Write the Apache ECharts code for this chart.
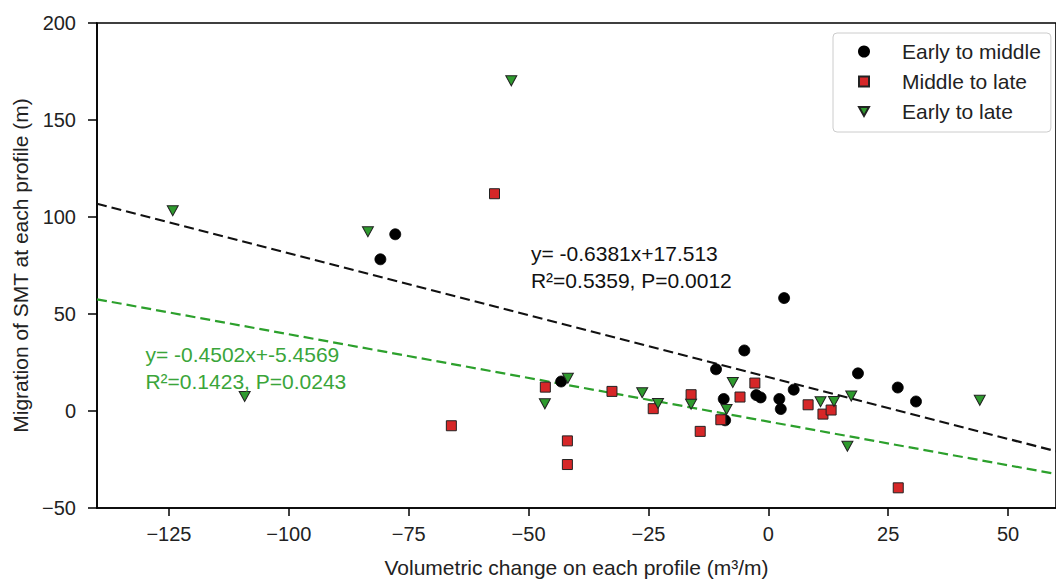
<!DOCTYPE html>
<html>
<head>
<meta charset="utf-8">
<script src="https://cdn.jsdelivr.net/npm/echarts@6/dist/echarts.min.js"></script>
<style>
html,body{margin:0;padding:0;background:#fff;}
#chart{width:1056px;height:583px;}
</style>
</head>
<body>
<div id="chart"></div>
<script>
// ---- data ----
const seriesNames = ['Early to middle', 'Middle to late', 'Early to late'];
const earlyMiddle = [[-80.9,78.2],[-77.8,91.1],[-43.2,15.2],[-10.9,21.5],[-9.3,6.2],[-9.0,-4.8],[-5.0,31.2],[-2.5,8.2],[-1.6,7.0],[2.3,6.2],[2.6,1.0],[3.3,58.2],[5.3,11.0],[18.7,19.4],[27.0,12.1],[30.8,4.9]];
const middleLate = [[-66.1,-7.6],[-57.1,112.0],[-46.5,12.3],[-41.9,-15.4],[-41.9,-27.6],[-32.6,10.1],[-24.0,1.2],[-16.1,8.4],[-14.2,-10.5],[-9.9,-4.5],[-5.9,7.2],[-2.8,14.4],[8.3,3.2],[11.4,-1.6],[13.1,0.5],[27.1,-39.6]];
const earlyLate = [[-124.2,103.2],[-109.2,7.5],[-83.5,92.4],[-53.6,170.2],[-46.6,3.7],[-41.8,16.9],[-26.3,9.4],[-23.0,3.9],[-16.1,3.5],[-8.7,0.8],[-7.4,14.7],[10.9,4.8],[13.7,4.9],[16.5,-18.2],[17.3,7.7],[44.1,5.5]];
const xTicks = [-125,-100,-75,-50,-25,0,25,50];
const xRange = [-140, 60];
const yRange = [-50, 200];
const yStep = 50;
const fitBlack = [-0.6381, 17.513];
const fitGreen = [-0.4502, -5.4569];
const textBlack = 'y= -0.6381x+17.513\nR²=0.5359, P=0.0012';
const textGreen = 'y= -0.4502x+-5.4569\nR²=0.1423, P=0.0243';
const textBlackAt = [-49.5, 87.9];
const textGreenAt = [-129.9, 35.9];

const FONT = '"Liberation Sans", Arial, Helvetica, sans-serif';
const fmt = v => (v < 0 ? '\u2212' + Math.abs(v) : String(v));
const fitLine = (c) => xRange.map(x => [x, c[0] * x + c[1]]);
const DOWN_TRI = 'path://M0,0L10,0L5,9Z';

const chart = echarts.init(document.getElementById('chart'), null, {renderer: 'svg'});
const option = {
  backgroundColor: '#fff',
  animation: false,
  textStyle: {fontFamily: FONT},
  grid: {left: 97, right: -7, top: 23, bottom: 75, show: true, borderColor: '#000', borderWidth: 1.6, backgroundColor: 'transparent'},
  legend: {
    data: [
      {name: seriesNames[0], icon: 'circle'},
      {name: seriesNames[1], icon: 'rect'},
      {name: seriesNames[2], icon: DOWN_TRI}
    ],
    orient: 'vertical',
    left: 833, top: 33,
    padding: [8, 10, 10, 25],
    itemGap: 9,
    itemWidth: 10, itemHeight: 10,
    backgroundColor: 'rgba(255,255,255,0.85)',
    borderColor: '#cccccc', borderWidth: 1, borderRadius: 4,
    textStyle: {fontFamily: FONT, fontSize: 21, color: '#222', lineHeight: 21, padding: [0, 0, 0, 28]}
  },
  xAxis: {
    type: 'value', min: xRange[0], max: xRange[1],
    name: 'Volumetric change on each profile (m³/m)',
    nameLocation: 'middle', nameGap: 49,
    nameTextStyle: {fontFamily: FONT, fontSize: 21, color: '#222'},
    axisLine: {show: true, onZero: false, lineStyle: {color: '#000', width: 1.6}},
    axisTick: {show: true, inside: false, length: 8, lineStyle: {color: '#000', width: 1.5}, customValues: xTicks},
    axisLabel: {show: true, margin: 16, fontFamily: FONT, fontSize: 20, color: '#222', customValues: xTicks, formatter: fmt},
    splitLine: {show: false}
  },
  yAxis: {
    type: 'value', min: yRange[0], max: yRange[1], interval: yStep,
    name: 'Migration of SMT at each profile (m)',
    nameLocation: 'middle', nameGap: 64, nameRotate: 90,
    nameTextStyle: {fontFamily: FONT, fontSize: 21, color: '#222'},
    axisLine: {show: true, onZero: false, lineStyle: {color: '#000', width: 1.6}},
    axisTick: {show: true, inside: false, length: 9, lineStyle: {color: '#000', width: 1.5}},
    axisLabel: {show: true, margin: 21, fontFamily: FONT, fontSize: 20, color: '#222', formatter: fmt},
    splitLine: {show: false}
  },
  series: [
    {
      name: 'fitBlack', type: 'line', data: fitLine(fitBlack), showSymbol: false, silent: true, z: 1,
      lineStyle: {color: '#111', width: 2.2, type: [10, 5]}
    },
    {
      name: 'fitGreen', type: 'line', data: fitLine(fitGreen), showSymbol: false, silent: true, z: 1,
      lineStyle: {color: '#2ca02c', width: 2.2, type: [10, 5]}
    },
    {
      name: seriesNames[0], type: 'scatter', data: earlyMiddle, symbol: 'circle', symbolSize: 11, z: 3,
      itemStyle: {color: '#000', borderColor: '#000', borderWidth: 0.8, opacity: 1}
    },
    {
      name: seriesNames[1], type: 'scatter', data: middleLate, symbol: 'rect', symbolSize: 10, z: 4,
      itemStyle: {color: '#d62728', borderColor: '#222', borderWidth: 1, opacity: 1}
    },
    {
      name: seriesNames[2], type: 'scatter', data: earlyLate, symbol: 'triangle', symbolRotate: 180, symbolSize: [11, 10], z: 5,
      itemStyle: {color: '#2e9a2e', borderColor: '#222', borderWidth: 1, opacity: 1}
    }
  ]
};
chart.setOption(option);

function placeNotes() {
  const pb = chart.convertToPixel({gridIndex: 0}, textBlackAt);
  const pg = chart.convertToPixel({gridIndex: 0}, textGreenAt);
  chart.setOption({
    graphic: [
      {type: 'text', x: pb[0], y: pb[1], z: 10, style: {text: textBlack, fill: '#111', fontFamily: FONT, fontSize: 21, lineHeight: 27, textAlign: 'left', textVerticalAlign: 'top'}},
      {type: 'text', x: pg[0], y: pg[1], z: 10, style: {text: textGreen, fill: '#3aa53a', fontFamily: FONT, fontSize: 21, lineHeight: 27, textAlign: 'left', textVerticalAlign: 'top'}}
    ]
  });
}
placeNotes();
</script>
</body>
</html>
